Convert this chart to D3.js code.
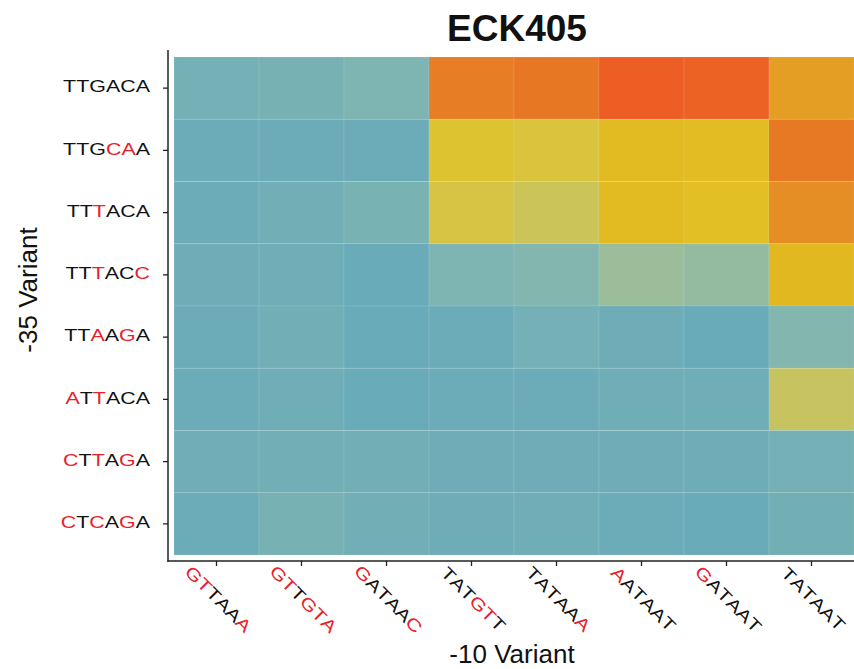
<!DOCTYPE html>
<html>
<head>
<meta charset="utf-8">
<script src="https://cdn.jsdelivr.net/npm/d3@7"></script>
<style>
  html, body { margin: 0; padding: 0; background: #fff; }
  svg { display: block; font-family: "Liberation Sans", Arial, sans-serif; }
</style>
</head>
<body>
<svg id="chart" width="854" height="669"></svg>
<script>
// ---- data ----
const title = "ECK405";
const minus10 = ["GTTAAA", "GTTGTA", "GATAAC", "TATGTT", "TATAAA", "AATAAT", "GATAAT", "TATAAT"];
const minus35 = ["TTGACA", "TTGCAA", "TTTACA", "TTTACC", "TTAAGA", "ATTACA", "CTTAGA", "CTCAGA"];
const consensus10 = "TATAAT";
const consensus35 = "TTGACA";
// relative expression (0..1), rows = -35 variants, columns = -10 variants
const rowTTGACA = [0.07, 0.09, 0.14, 0.86, 0.89, 1.00, 0.98, 0.76];
const rowTTGCAA = [0.02, 0.02, 0.02, 0.57, 0.54, 0.67, 0.65, 0.88];
const rowTTTACA = [0.02, 0.05, 0.10, 0.52, 0.47, 0.67, 0.62, 0.80];
const rowTTTACC = [0.03, 0.04, 0.00, 0.14, 0.16, 0.30, 0.26, 0.68];
const rowTTAAGA = [0.02, 0.05, 0.00, 0.02, 0.07, 0.03, 0.00, 0.16];
const rowATTACA = [0.02, 0.04, 0.00, 0.02, 0.02, 0.04, 0.04, 0.45];
const rowCTTAGA = [0.04, 0.05, 0.05, 0.03, 0.03, 0.03, 0.03, 0.07];
const rowCTCAGA = [0.01, 0.09, 0.05, 0.03, 0.04, 0.02, 0.00, 0.06];
const values = [rowTTGACA, rowTTGCAA, rowTTTACA, rowTTTACC, rowTTAAGA, rowATTACA, rowCTTAGA, rowCTCAGA];

const colorStops = [0, 0.15, 0.3, 0.5, 0.6, 0.7, 0.8, 0.9, 1.0];
const colorRange = ["#69abb9", "#80b5b0", "#9bbd9a", "#d4c54c", "#e2c226", "#e2b620", "#e58e26", "#e87424", "#ec5e24"];

// ---- layout ----
const svg = d3.select("#chart");
const x = d3.scaleBand().domain(minus10).range([174, 854]).paddingInner(0).paddingOuter(0);
const y = d3.scaleBand().domain(minus35).range([57, 555]).paddingInner(0).paddingOuter(0);
const color = d3.scaleLinear().domain(colorStops).range(colorRange).clamp(true);
const red = "#e8202a";
const stretch = 1.26;

const cells = [];
minus35.forEach((r, i) => minus10.forEach((c, j) => cells.push({ r, c, v: values[i][j] })));

svg.append("g").selectAll("rect").data(cells).join("rect")
  .attr("x", d => x(d.c))
  .attr("y", d => y(d.r))
  .attr("width", x.bandwidth())
  .attr("height", y.bandwidth())
  .attr("fill", d => color(d.v))
  .attr("stroke", "rgba(255,255,255,0.1)")
  .attr("stroke-width", 1);

// axes
const axisColor = "#222";
const yAxis = svg.append("g").attr("transform", "translate(168,0)")
  .call(d3.axisLeft(y).tickSize(5).tickSizeOuter(0).tickFormat(""));
yAxis.select(".domain").remove();
yAxis.selectAll("line").attr("stroke", axisColor).attr("stroke-width", 1.3);

const xAxis = svg.append("g").attr("transform", "translate(0,561)")
  .call(d3.axisBottom(x).tickSize(5).tickSizeOuter(0).tickFormat(""));
xAxis.select(".domain").remove();
xAxis.selectAll("line").attr("stroke", axisColor).attr("stroke-width", 1.3);

svg.append("line").attr("x1", 168).attr("x2", 168).attr("y1", 50).attr("y2", 561.7)
  .attr("stroke", axisColor).attr("stroke-width", 1.5);
svg.append("line").attr("x1", 167.3).attr("x2", 854).attr("y1", 561).attr("y2", 561)
  .attr("stroke", axisColor).attr("stroke-width", 1.5);

function addColoredLetters(textSel, label, cons) {
  label.split("").forEach((ch, k) => {
    textSel.append("tspan").text(ch).attr("fill", ch === cons[k] ? "#111" : red);
  });
}

// y tick labels
minus35.forEach(lab => {
  const t = svg.append("text")
    .attr("transform", `translate(150,${y(lab) + y.bandwidth() / 2 - 2}) scale(${stretch},1)`)
    .attr("text-anchor", "end")
    .attr("dy", "0.36em")
    .attr("font-size", 17);
  addColoredLetters(t, lab, consensus35);
});

// x tick labels (rotated 45deg)
minus10.forEach(lab => {
  const cx = x(lab) + x.bandwidth() / 2 + 2;
  const t = svg.append("text")
    .attr("transform", `translate(${cx},599) rotate(45) scale(${stretch},1)`)
    .attr("text-anchor", "middle")
    .attr("dy", "0.36em")
    .attr("font-size", 17);
  addColoredLetters(t, lab, consensus10);
});

// titles
svg.append("text").attr("x", 517).attr("y", 41).attr("text-anchor", "middle")
  .attr("font-size", 37).attr("font-weight", "bold").attr("fill", "#111").text(title);
svg.append("text").attr("x", 512).attr("y", 663).attr("text-anchor", "middle")
  .attr("font-size", 26).attr("fill", "#111").text("-10 Variant");
svg.append("text").attr("transform", "translate(37,290) rotate(-90)").attr("text-anchor", "middle")
  .attr("font-size", 26).attr("fill", "#111").text("-35 Variant");
</script>
</body>
</html>
